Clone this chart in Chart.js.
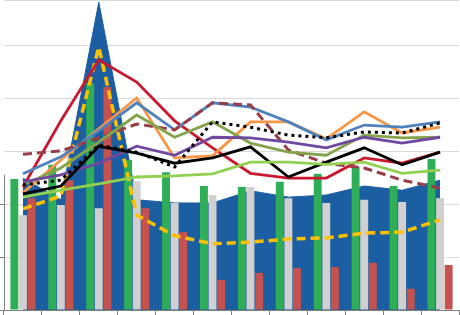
<!DOCTYPE html>
<html>
<head>
  <title>Combo chart</title>
  <script src="https://cdn.jsdelivr.net/npm/chart.js"></script>
  <style>
    body {
      margin: 0;
      background-color: #fff;
    }
    canvas {
      display: block;
    }
  </style>
</head>
<body>
  <canvas id="comboChart" width="460" height="315"></canvas>

  <script>
    const months = ['Jan', 'Feb', 'Mar', 'Apr', 'May', 'Jun', 'Jul', 'Aug', 'Sep', 'Oct', 'Nov', 'Dec'];

    // area behind everything
    const areaTotal = [24.9, 20.8, 58.1, 20.8, 20.2, 20.2, 22.5, 21.3, 21.7, 23.4, 22.6, 24.5];

    // bars
    const barGreen = [24.7, 27.4, 42.8, 28.3, 26.0, 23.4, 23.2, 24.2, 25.7, 27.0, 23.4, 28.5];
    const barGrey  = [17.9, 19.8, 19.2, 24.3, 20.2, 21.7, 23.2, 21.1, 20.2, 20.8, 20.4, 21.1];
    const barRed   = [21.1, 24.5, 42.1, 19.2, 14.7, 5.7, 7.0, 7.9, 8.1, 8.9, 4.0, 8.5];

    // lines
    const lineRed       = [23.2, 35.7, 47.2, 43.0, 35.7, 30.6, 25.8, 24.9, 24.9, 28.7, 27.7, 29.8];
    const lineYellow    = [19.1, 21.5, 49.6, 17.9, 14.0, 12.5, 12.8, 13.4, 13.6, 14.5, 14.7, 17.0];
    const lineBlue      = [25.7, 28.9, 33.8, 39.1, 34.0, 39.1, 38.3, 35.5, 32.1, 34.9, 34.5, 35.5];
    const lineOrange    = [22.1, 28.3, 34.2, 40.0, 28.7, 29.1, 35.5, 35.5, 32.3, 37.4, 33.4, 34.5];
    const lineOlive     = [23.6, 26.8, 31.7, 36.8, 32.6, 35.5, 31.5, 29.8, 29.2, 33.0, 32.5, 32.6];
    const linePurple    = [24.2, 25.5, 27.7, 30.9, 29.2, 32.6, 32.5, 31.7, 30.6, 32.6, 31.5, 32.6];
    const lineBlack     = [21.9, 23.4, 30.9, 29.6, 27.7, 28.7, 30.8, 25.1, 27.9, 30.6, 27.4, 29.8];
    const lineDotted    = [23.6, 24.5, 31.1, 29.8, 27.0, 35.5, 34.5, 33.0, 32.5, 33.6, 33.4, 35.3];
    const lineDarkRed   = [29.4, 30.0, 32.5, 35.1, 34.0, 39.1, 38.7, 30.2, 27.7, 26.8, 24.5, 23.0];
    const lineLightGreen = [21.3, 22.6, 23.8, 25.1, 25.3, 25.7, 27.9, 27.9, 27.5, 27.9, 25.8, 26.4];

    const yMax = 58.5;
    const axisTop = 25.5;      // left axis only covers the lower part
    const axisTicks = [0, 10, 20];

    function lineSet(data, color, dash, width) {
      return {
        type: 'line',
        data: data,
        borderColor: color,
        borderWidth: width || 2.8,
        borderDash: dash || [],
        pointRadius: 0,
        tension: 0,
        fill: false,
        order: 1
      };
    }

    // short left axis line with its tick marks
    const leftAxis = {
      id: 'leftAxis',
      afterDraw(chart) {
        const ctx = chart.ctx;
        const y = chart.scales.y;
        const x0 = chart.chartArea.left;
        ctx.save();
        ctx.strokeStyle = '#7f7f7f';
        ctx.lineWidth = 1;
        ctx.beginPath();
        ctx.moveTo(x0 + 0.5, y.getPixelForValue(axisTop));
        ctx.lineTo(x0 + 0.5, y.getPixelForValue(0));
        axisTicks.forEach(v => {
          const py = Math.round(y.getPixelForValue(v)) + 0.5;
          ctx.moveTo(x0 - 4, py);
          ctx.lineTo(x0 + 0.5, py);
        });
        ctx.stroke();
        ctx.restore();
      }
    };

    const ctx = document.getElementById('comboChart').getContext('2d');

    new Chart(ctx, {
      type: 'bar',
      data: {
        labels: months,
        datasets: [
          {
            type: 'line',
            data: areaTotal,
            borderColor: '#1B5EA2',
            borderWidth: 1,
            backgroundColor: '#1B5EA2',
            pointRadius: 0,
            tension: 0,
            fill: 'origin',
            order: 3
          },
          { data: barGreen, backgroundColor: '#2EAE57', order: 2 },
          { data: barGrey, backgroundColor: '#D0D0D0', order: 2 },
          { data: barRed, backgroundColor: '#C5524E', order: 2 },
          lineSet(lineLightGreen, '#92D050'),
          lineSet(lineBlack, '#000000'),
          lineSet(lineDotted, '#000000', [3, 4], 3),
          lineSet(linePurple, '#7048A0'),
          lineSet(lineOlive, '#84A44C'),
          lineSet(lineDarkRed, '#993D48', [9, 5], 3),
          lineSet(lineBlue, '#4F81BD'),
          lineSet(lineOrange, '#F79646'),
          lineSet(lineRed, '#C8192E'),
          lineSet(lineYellow, '#FFC000', [9, 5], 3.5)
        ]
      },
      options: {
        responsive: false,
        animation: false,
        layout: {
          padding: { left: 4, right: 1, top: 0, bottom: 0 }
        },
        datasets: {
          bar: {
            categoryPercentage: 0.68,
            barPercentage: 0.92
          }
        },
        plugins: {
          legend: { display: false },
          tooltip: { enabled: false }
        },
        scales: {
          x: {
            ticks: { display: false },
            grid: {
              drawOnChartArea: false,
              drawTicks: true,
              tickLength: 5,
              color: '#7f7f7f'
            },
            border: { display: true, color: '#7f7f7f' }
          },
          y: {
            min: 0,
            max: yMax,
            ticks: { display: false, stepSize: 10 },
            grid: {
              drawTicks: false,
              color: '#D9D9D9'
            },
            border: { display: false }
          }
        }
      },
      plugins: [leftAxis]
    });
  </script>
</body>
</html>
